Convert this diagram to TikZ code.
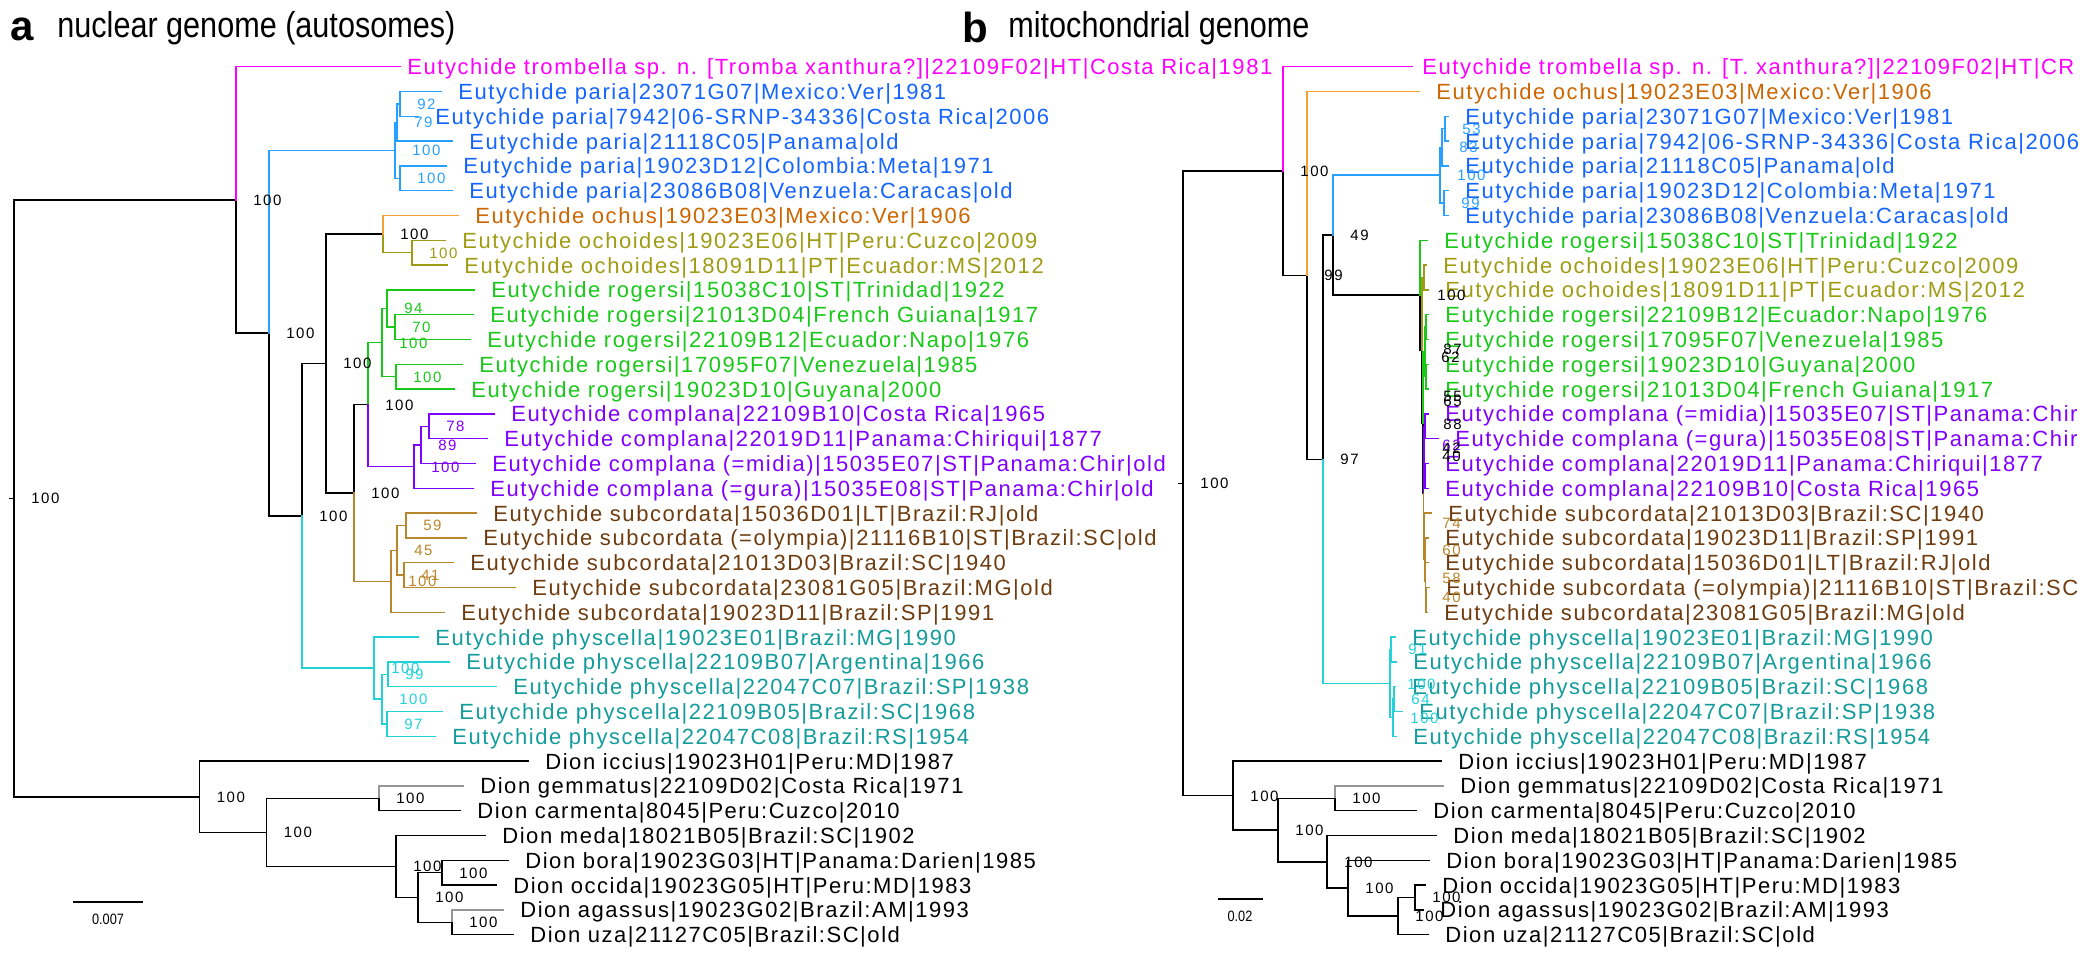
\documentclass[tikz,border=0pt]{standalone}
\usepackage{fontspec}
\setmainfont{Liberation Sans}
\newfontfamily\tipfont[LetterSpace=7]{Liberation Sans}
\newfontfamily\bsfont[LetterSpace=10]{Liberation Sans}
\newfontfamily\ttlfont[FakeStretch=0.85]{Liberation Sans}
\definecolor{trombcol}{RGB}{255,0,255}
\definecolor{pariatxt}{RGB}{20,100,255}
\definecolor{pariabr}{RGB}{40,160,255}
\definecolor{ochustxt}{RGB}{204,102,0}
\definecolor{ochusbr}{RGB}{245,160,50}
\definecolor{ochocol}{RGB}{160,155,20}
\definecolor{rogcol}{RGB}{25,200,25}
\definecolor{compcol}{RGB}{128,0,255}
\definecolor{subctxt}{RGB}{110,60,15}
\definecolor{subcbr}{RGB}{184,134,43}
\definecolor{physctxt}{RGB}{20,155,155}
\definecolor{physcbr}{RGB}{34,210,216}
\definecolor{greybr}{RGB}{150,150,150}
\begin{document}
\begin{tikzpicture}[x=0.5pt,y=-0.5pt,
  declare function={ry(\i)=66.7+24.8*\i;},
  br/.style={line width=0.75pt,line cap=rect},
  tipl/.style={anchor=west,inner sep=0pt,xshift=8.5pt,text height=7.9pt,text depth=0pt,
    font=\tipfont\fontsize{11}{13}\selectfont},
  bs/.style={anchor=west,inner sep=0pt,xshift=8.5pt,text height=5.4pt,text depth=0pt,
    font=\bsfont\fontsize{7.5}{9}\selectfont},
  sclab/.style={inner sep=0pt,font=\ttlfont\fontsize{7.5}{9}\selectfont},
  ttl/.style={anchor=base west,inner sep=0pt,font=\ttlfont\fontsize{18}{20}\selectfont},
  pnl/.style={anchor=base west,inner sep=0pt,font=\bfseries\fontsize{21}{24}\selectfont}]

  \useasboundingbox (0,0) rectangle (2100,954);

  \node[pnl] (pa) at (10,40) {a};
  \node[ttl] (ta) at (57,37) {nuclear genome (autosomes)};
  \node[pnl] (pb) at (962,42) {b};
  \node[ttl] (tb) at (1008,37) {mitochondrial genome};

  % a: nuclear tree
  \foreach \n/\x/\y in {aroot0/10/498.3, aroot/14/498.3, aA/236/199.9, aB/269/333.1,
      aP/395/150.4, aQ/397/122.5, aS/400/103.9, aR/400/178.3, aC/302/515.8, aD/326/363.5,
      aE/383/234.1, aF/412/252.7, aG/354/493.0, aH/368/404.6, aI/382/342.6, aK/387/308.5,
      aM/395/327.1, aL/396/376.7, aJ/414/466.6, aN/421/444.9, aO/429/426.3, aT/391/581.3,
      aU/397/550.3, aV/406/525.5, aW/404/575.1, aX/374/668.1, aY/382/699.1, aZ/388/674.3,
      aZZ/387/723.9, aDA/199.5/796.8, aDB/266.5/832.4, aDC/379/798.3, aDD/396/866.5,
      aDE/418/897.5, aDF/442/872.7, aDG/452/922.3}
    \coordinate (\n) at (\x,\y);

  \draw[br] (aroot0) -- (aroot);
  \foreach \p/\c in {aroot/aA, aroot/aDA, aA/aB, aB/aC, aC/aD, aD/aE, aD/aG, aG/aH,
      aDA/aDB, aDB/aDC, aDB/aDD, aDD/aDE, aDE/aDF, aDE/aDG}
    \draw[br] (\p) |- (\c);
  \foreach \p/\c in {aB/aP, aP/aQ, aP/aR, aQ/aS} \draw[br,pariabr] (\p) |- (\c);
  \draw[br,ochocol] (aE) |- (aF);
  \foreach \p/\c in {aH/aI, aI/aK, aI/aL, aK/aM} \draw[br,rogcol] (\p) |- (\c);
  \foreach \p/\c in {aH/aJ, aJ/aN, aN/aO} \draw[br,compcol] (\p) |- (\c);
  \foreach \p/\c in {aG/aT, aT/aU, aU/aV, aU/aW} \draw[br,subcbr] (\p) |- (\c);
  \foreach \p/\c in {aC/aX, aX/aY, aY/aZ, aY/aZZ} \draw[br,physcbr] (\p) |- (\c);

  \coordinate (a0) at (400,{ry(0)});
  \draw[br,trombcol] (aA) |- (a0);
  \node[tipl,text=trombcol] (la0) at ([xshift=-5pt]a0)
    {Eutychide trombella sp. n. [Tromba xanthura?]|22109F02|HT|Costa Rica|1981};
  \foreach \n/\x/\r/\p/\t in {
      a1/441/1/aS/{Eutychide paria|23071G07|Mexico:Ver|1981},
      a2/418/2/aS/{Eutychide paria|7942|06-SRNP-34336|Costa Rica|2006},
      a3/452/3/aQ/{Eutychide paria|21118C05|Panama|old},
      a4/446/4/aR/{Eutychide paria|19023D12|Colombia:Meta|1971},
      a5/452/5/aR/{Eutychide paria|23086B08|Venzuela:Caracas|old}} {
    \coordinate (\n) at (\x,{ry(\r)});
    \draw[br,pariabr] (\p) |- (\n);
    \node[tipl,text=pariatxt] (l\n) at (\n) {\t};
  }
  \coordinate (a6) at (458,{ry(6)});
  \draw[br,ochusbr] (aE) |- (a6);
  \node[tipl,text=ochustxt] (la6) at (a6) {Eutychide ochus|19023E03|Mexico:Ver|1906};
  \foreach \n/\x/\r/\p/\t in {
      a7/445/7/aF/{Eutychide ochoides|19023E06|HT|Peru:Cuzco|2009},
      a8/447/8/aF/{Eutychide ochoides|18091D11|PT|Ecuador:MS|2012}} {
    \coordinate (\n) at (\x,{ry(\r)});
    \draw[br,ochocol] (\p) |- (\n);
    \node[tipl,text=ochocol] (l\n) at (\n) {\t};
  }
  \foreach \n/\x/\r/\p/\t in {
      a9/474/9/aK/{Eutychide rogersi|15038C10|ST|Trinidad|1922},
      a10/473/10/aM/{Eutychide rogersi|21013D04|French Guiana|1917},
      a11/470/11/aM/{Eutychide rogersi|22109B12|Ecuador:Napo|1976},
      a12/462/12/aL/{Eutychide rogersi|17095F07|Venezuela|1985},
      a13/454/13/aL/{Eutychide rogersi|19023D10|Guyana|2000}} {
    \coordinate (\n) at (\x,{ry(\r)});
    \draw[br,rogcol] (\p) |- (\n);
    \node[tipl,text=rogcol] (l\n) at (\n) {\t};
  }
  \foreach \n/\x/\r/\p/\t in {
      a14/494/14/aO/{Eutychide complana|22109B10|Costa Rica|1965},
      a15/487/15/aO/{Eutychide complana|22019D11|Panama:Chiriqui|1877},
      a16/475/16/aN/{Eutychide complana (=midia)|15035E07|ST|Panama:Chir|old},
      a17/473/17/aJ/{Eutychide complana (=gura)|15035E08|ST|Panama:Chir|old}} {
    \coordinate (\n) at (\x,{ry(\r)});
    \draw[br,compcol] (\p) |- (\n);
    \node[tipl,text=compcol] (l\n) at (\n) {\t};
  }
  \foreach \n/\x/\r/\p/\t in {
      a18/476/18/aV/{Eutychide subcordata|15036D01|LT|Brazil:RJ|old},
      a19/466/19/aV/{Eutychide subcordata (=olympia)|21116B10|ST|Brazil:SC|old},
      a20/453/20/aW/{Eutychide subcordata|21013D03|Brazil:SC|1940},
      a21/515/21/aW/{Eutychide subcordata|23081G05|Brazil:MG|old},
      a22/444/22/aT/{Eutychide subcordata|19023D11|Brazil:SP|1991}} {
    \coordinate (\n) at (\x,{ry(\r)});
    \draw[br,subcbr] (\p) |- (\n);
    \node[tipl,text=subctxt] (l\n) at (\n) {\t};
  }
  \foreach \n/\x/\r/\p/\t in {
      a23/418/23/aX/{Eutychide physcella|19023E01|Brazil:MG|1990},
      a24/449/24/aZ/{Eutychide physcella|22109B07|Argentina|1966},
      a25/496/25/aZ/{Eutychide physcella|22047C07|Brazil:SP|1938},
      a26/442/26/aZZ/{Eutychide physcella|22109B05|Brazil:SC|1968},
      a27/435/27/aZZ/{Eutychide physcella|22047C08|Brazil:RS|1954}} {
    \coordinate (\n) at (\x,{ry(\r)});
    \draw[br,physcbr] (\p) |- (\n);
    \node[tipl,text=physctxt] (l\n) at (\n) {\t};
  }
  \foreach \n/\x/\r/\p/\c/\t in {
      a28/528/28/aDA/black/{Dion iccius|19023H01|Peru:MD|1987},
      a29/463/29/aDC/greybr/{Dion gemmatus|22109D02|Costa Rica|1971},
      a30/460/30/aDC/black/{Dion carmenta|8045|Peru:Cuzco|2010},
      a31/485/31/aDD/black/{Dion meda|18021B05|Brazil:SC|1902},
      a32/508/32/aDF/black/{Dion bora|19023G03|HT|Panama:Darien|1985},
      a33/496/33/aDF/black/{Dion occida|19023G05|HT|Peru:MD|1983},
      a34/503/34/aDG/greybr/{Dion agassus|19023G02|Brazil:AM|1993},
      a35/513/35/aDG/black/{Dion uza|21127C05|Brazil:SC|old}} {
    \coordinate (\n) at (\x,{ry(\r)});
    \draw[br,\c] (\p) |- (\n);
    \node[tipl] (l\n) at (\n) {\t};
  }

  \foreach \n/\v in {aroot/100, aA/100, aB/100, aC/100, aD/100, aE/100, aG/100, aH/100,
      aDA/100, aDB/100, aDC/100, aDD/100, aDE/100, aDF/100, aDG/100}
    \node[bs] (s\n) at (\n) {\v};
  \foreach \n/\v in {aS/92, aQ/79, aP/100, aR/100} \node[bs,text=pariabr] (s\n) at (\n) {\v};
  \node[bs,text=ochocol] (saF) at (aF) {100};
  \foreach \n/\v in {aK/94, aM/70, aI/100, aL/100} \node[bs,text=rogcol] (s\n) at (\n) {\v};
  \foreach \n/\v in {aO/78, aN/89, aJ/100} \node[bs,text=compcol] (s\n) at (\n) {\v};
  \foreach \n/\v in {aV/59, aU/45, aW/41, aT/100} \node[bs,text=subcbr] (s\n) at (\n) {\v};
  \foreach \n/\v in {aX/100, aZ/99, aY/100, aZZ/97} \node[bs,text=physcbr] (s\n) at (\n) {\v};

  \coordinate (sa1) at (74,902);
  \coordinate (sa2) at (142,902);
  \draw[br] (sa1) -- (sa2);
  \node[sclab] (lsa) at (108,919) {0.007};

  % b: mitochondrial tree
  \foreach \n/\x/\y in {broot0/1179/483.4, broot/1183/483.4, bA/1283/171.1, bB/1307/275.5,
      bC/1323/459.4, bD/1333/235.2, bP/1440/175.2, bPA/1442/147.3, bPI/1445/128.7,
      bPB/1444/203.1, bE/1420/295.2, bF/1422/350.2, bOC/1424/277.5, bH/1423/422.8,
      bG/1425/351.9, bG1/1426/327.1, bG2/1426/376.7, bI/1423.5/493.7, bCP/1424/451.1,
      bCP1/1425/426.3, bCP2/1425/475.9, bS1/1424/536.4, bS2/1425/559.6, bS3/1425.5/581.3,
      bS4/1426/599.9, bPH/1390/683.6, bP1/1391/649.5, bP3/1393/717.7, bP2/1394/699.1,
      bDA/1233/795.6, bDB/1278/830.1, bDC/1335/798.3, bDD/1327/861.9, bDE/1348/888.2,
      bDF/1398/916.1, bDG/1415/897.5}
    \coordinate (\n) at (\x,\y);

  \draw[br] (broot0) -- (broot);
  \foreach \p/\c in {broot/bA, broot/bDA, bA/bB, bB/bC, bC/bD, bD/bE, bE/bF, bF/bH, bH/bI,
      bDA/bDB, bDB/bDC, bDB/bDD, bDD/bDE, bDE/bDF, bDF/bDG}
    \draw[br] (\p) |- (\c);
  \foreach \p/\c in {bD/bP, bP/bPA, bP/bPB, bPA/bPI} \draw[br,pariabr] (\p) |- (\c);
  \draw[br,ochocol] (bF) |- (bOC);
  \foreach \p/\c in {bH/bG, bG/bG1, bG/bG2} \draw[br,rogcol] (\p) |- (\c);
  \foreach \p/\c in {bI/bCP, bCP/bCP1, bCP/bCP2} \draw[br,compcol] (\p) |- (\c);
  \foreach \p/\c in {bI/bS1, bS1/bS2, bS2/bS3, bS3/bS4} \draw[br,subcbr] (\p) |- (\c);
  \foreach \p/\c in {bC/bPH, bPH/bP1, bPH/bP3, bP3/bP2} \draw[br,physcbr] (\p) |- (\c);

  \coordinate (b0) at (1412,{ry(0)});
  \draw[br,trombcol] (bA) |- (b0);
  \node[tipl,text=trombcol] (lb0) at ([xshift=-3.5pt]b0)
    {Eutychide trombella sp. n. [T. xanthura?]|22109F02|HT|CR};
  \coordinate (b1) at (1419,{ry(1)});
  \draw[br,ochusbr] (bB) |- (b1);
  \node[tipl,text=ochustxt] (lb1) at (b1) {Eutychide ochus|19023E03|Mexico:Ver|1906};
  \foreach \n/\x/\r/\p/\t in {
      b2/1448/2/bPI/{Eutychide paria|23071G07|Mexico:Ver|1981},
      b3/1448/3/bPI/{Eutychide paria|7942|06-SRNP-34336|Costa Rica|2006},
      b4/1448/4/bPA/{Eutychide paria|21118C05|Panama|old},
      b5/1448/5/bPB/{Eutychide paria|19023D12|Colombia:Meta|1971},
      b6/1448/6/bPB/{Eutychide paria|23086B08|Venzuela:Caracas|old}} {
    \coordinate (\n) at (\x,{ry(\r)});
    \draw[br,pariabr] (\p) |- (\n);
    \node[tipl,text=pariatxt] (l\n) at (\n) {\t};
  }
  \foreach \n/\x/\r/\p/\t in {
      b7/1427/7/bE/{Eutychide rogersi|15038C10|ST|Trinidad|1922},
      b10/1428/10/bG1/{Eutychide rogersi|22109B12|Ecuador:Napo|1976},
      b11/1428/11/bG1/{Eutychide rogersi|17095F07|Venezuela|1985},
      b12/1428/12/bG2/{Eutychide rogersi|19023D10|Guyana|2000},
      b13/1428/13/bG2/{Eutychide rogersi|21013D04|French Guiana|1917}} {
    \coordinate (\n) at (\x,{ry(\r)});
    \draw[br,rogcol] (\p) |- (\n);
    \node[tipl,text=rogcol] (l\n) at (\n) {\t};
  }
  \foreach \n/\x/\r/\p/\t in {
      b8/1426/8/bOC/{Eutychide ochoides|19023E06|HT|Peru:Cuzco|2009},
      b9/1428/9/bOC/{Eutychide ochoides|18091D11|PT|Ecuador:MS|2012}} {
    \coordinate (\n) at (\x,{ry(\r)});
    \draw[br,ochocol] (\p) |- (\n);
    \node[tipl,text=ochocol] (l\n) at (\n) {\t};
  }
  \foreach \n/\x/\r/\p/\t in {
      b14/1428/14/bCP1/{Eutychide complana (=midia)|15035E07|ST|Panama:Chir},
      b15/1438/15/bCP1/{Eutychide complana (=gura)|15035E08|ST|Panama:Chir},
      b16/1428/16/bCP2/{Eutychide complana|22019D11|Panama:Chiriqui|1877},
      b17/1428/17/bCP2/{Eutychide complana|22109B10|Costa Rica|1965}} {
    \coordinate (\n) at (\x,{ry(\r)});
    \draw[br,compcol] (\p) |- (\n);
    \node[tipl,text=compcol] (l\n) at (\n) {\t};
  }
  \foreach \n/\x/\r/\p/\t in {
      b18/1431/18/bS1/{Eutychide subcordata|21013D03|Brazil:SC|1940},
      b19/1428/19/bS2/{Eutychide subcordata|19023D11|Brazil:SP|1991},
      b20/1428/20/bS3/{Eutychide subcordata|15036D01|LT|Brazil:RJ|old},
      b21/1429/21/bS4/{Eutychide subcordata (=olympia)|21116B10|ST|Brazil:SC},
      b22/1427/22/bS4/{Eutychide subcordata|23081G05|Brazil:MG|old}} {
    \coordinate (\n) at (\x,{ry(\r)});
    \draw[br,subcbr] (\p) |- (\n);
    \node[tipl,text=subctxt] (l\n) at (\n) {\t};
  }
  \foreach \n/\x/\r/\p/\t in {
      b23/1395/23/bP1/{Eutychide physcella|19023E01|Brazil:MG|1990},
      b24/1396/24/bP1/{Eutychide physcella|22109B07|Argentina|1966},
      b25/1395/25/bP2/{Eutychide physcella|22109B05|Brazil:SC|1968},
      b26/1402/26/bP2/{Eutychide physcella|22047C07|Brazil:SP|1938},
      b27/1396/27/bP3/{Eutychide physcella|22047C08|Brazil:RS|1954}} {
    \coordinate (\n) at (\x,{ry(\r)});
    \draw[br,physcbr] (\p) |- (\n);
    \node[tipl,text=physctxt] (l\n) at (\n) {\t};
  }
  \foreach \n/\x/\r/\p/\c/\t in {
      b28/1441/28/bDA/black/{Dion iccius|19023H01|Peru:MD|1987},
      b29/1443/29/bDC/greybr/{Dion gemmatus|22109D02|Costa Rica|1971},
      b30/1416/30/bDC/black/{Dion carmenta|8045|Peru:Cuzco|2010},
      b31/1436/31/bDD/black/{Dion meda|18021B05|Brazil:SC|1902},
      b32/1429/32/bDE/black/{Dion bora|19023G03|HT|Panama:Darien|1985},
      b33/1425/33/bDG/black/{Dion occida|19023G05|HT|Peru:MD|1983},
      b34/1423/34/bDG/black/{Dion agassus|19023G02|Brazil:AM|1993},
      b35/1428/35/bDF/black/{Dion uza|21127C05|Brazil:SC|old}} {
    \coordinate (\n) at (\x,{ry(\r)});
    \draw[br,\c] (\p) |- (\n);
    \node[tipl] (l\n) at (\n) {\t};
  }

  \foreach \n/\v in {broot/100, bA/100, bB/99, bC/97, bD/49, bE/100, bDA/100, bDB/100,
      bDC/100, bDD/100, bDE/100, bDF/100, bDG/100}
    \node[bs] (s\n) at (\n) {\v};
  \foreach \n/\v in {bPI/53, bPA/83, bP/100, bPB/99} \node[bs,text=pariabr] (s\n) at (\n) {\v};
  \foreach \n/\v in {bP1/91, bPH/100, bP2/64, bP3/100} \node[bs,text=physcbr] (s\n) at (\n) {\v};
  % crowded support values near the short branches
  \foreach \n/\x/\y/\v/\c in {c1/1426/349/87/black, c2/1424/357/62/black,
      c3/1426/396/55/black, c4/1426/401/65/black, c5/1426/424/88/black,
      c6/1425/445/62/compcol, c7/1425/448/42/black, c8/1425/456/40/black,
      c9/1425/523/74/subcbr, c10/1425/550/60/subcbr, c11/1425/578/58/subcbr,
      c12/1425/597/40/subcbr}
    \node[bs,text=\c] (\n) at (\x,\y) {\v};

  \coordinate (sb1) at (1219,899);
  \coordinate (sb2) at (1262,899);
  \draw[br] (sb1) -- (sb2);
  \node[sclab] (lsb) at (1240,916) {0.02};
\end{tikzpicture}
\end{document}
